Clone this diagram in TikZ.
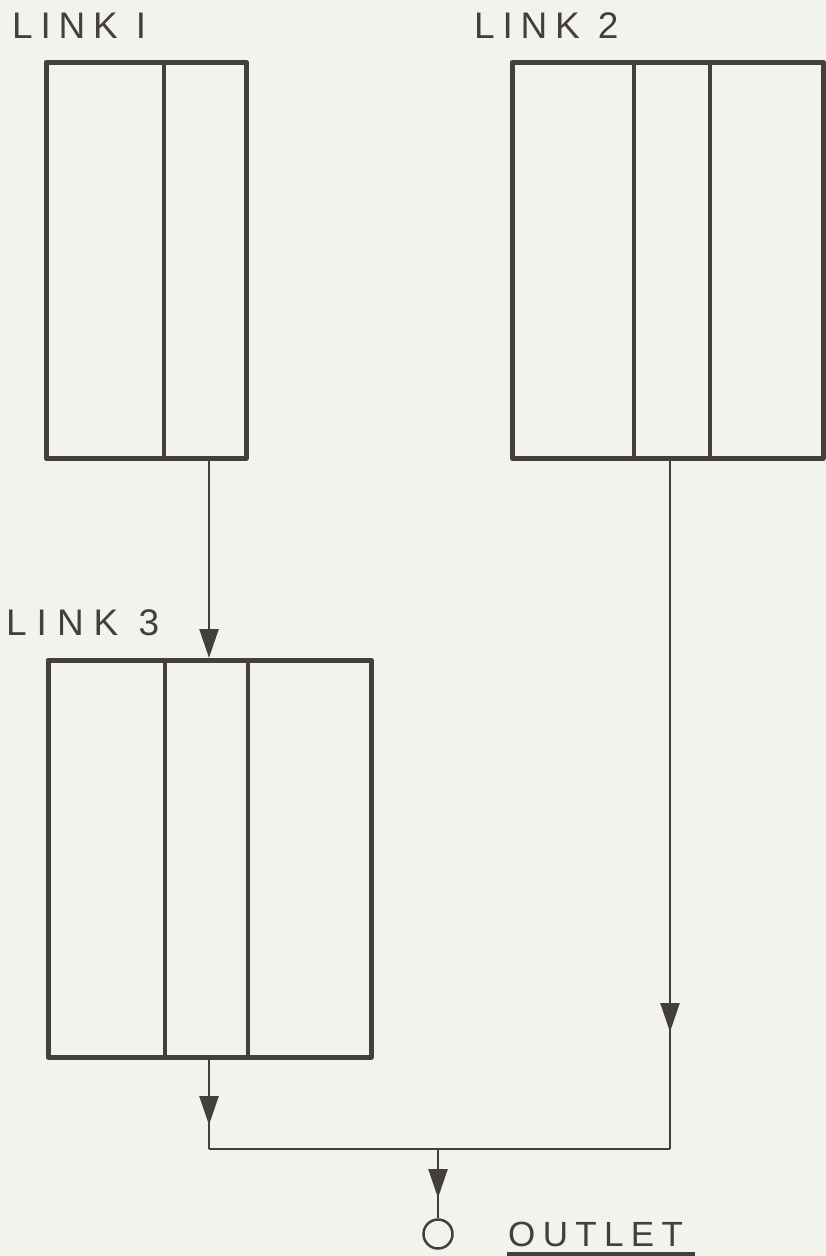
\documentclass[tikz,border=0pt]{standalone}
\usepackage{fontspec}
\setmainfont{Liberation Sans}
\usetikzlibrary{arrows.meta,decorations.markings}
\definecolor{ink}{HTML}{453E3E}
\definecolor{paper}{HTML}{F3F3EE}
\newfontfamily\lblfont[LetterSpace=21]{Liberation Sans}
\newfontfamily\lblfontw[LetterSpace=27]{Liberation Sans}
\tikzset{
  linkbox/.style={draw=ink, line width=5pt, line join=round, rectangle, inner sep=0pt, outer sep=0pt},
  divider/.style={draw=ink, line width=4.5pt},
  conn/.style={draw=ink, line width=2.5pt},
  tiphead/.style={-{Triangle[length=29pt,width=19pt]}, shorten >=2pt},
  lbl/.style={text=ink, inner sep=0pt, anchor=base west, font=\fontsize{37}{40}\selectfont\lblfont},
  outletc/.style={draw=ink, line width=2.5pt, circle, minimum size=29pt, inner sep=0pt},
  midarrow/.style={postaction={decorate}, decoration={markings, mark=at position #1 with {\arrow[ink]{Triangle[length=29pt,width=19pt]}}}}
}
\begin{document}
\begin{tikzpicture}[x=1pt,y=-1pt]
\fill[paper] (0,0) rectangle (826,1256);
\useasboundingbox (0,0) rectangle (826,1256);

% labels
\node[lbl] (t1) at (12,38) {LINK I};
\node[lbl] (t2) at (474,38) {LINK 2};
\node[lbl, font=\fontsize{37}{40}\selectfont\lblfontw] (t3) at (6,635) {LINK 3};

% boxes
\node[linkbox, minimum width=200pt, minimum height=396pt] (l1) at (146,260) {};
\node[linkbox, minimum width=311pt, minimum height=396pt] (l2) at (667.5,260) {};
\node[linkbox, minimum width=323pt, minimum height=397pt] (l3) at (209.5,858.5) {};

% dividers
\coordinate (d11) at (164,0);
\coordinate (d21) at (634,0);
\coordinate (d22) at (710,0);
\coordinate (d31) at (165,0);
\coordinate (d32) at (248,0);
\draw[divider] (l1.north -| d11) -- (l1.south -| d11);
\draw[divider] (l2.north -| d21) -- (l2.south -| d21);
\draw[divider] (l2.north -| d22) -- (l2.south -| d22);
\draw[divider] (l3.north -| d31) -- (l3.south -| d31);
\draw[divider] (l3.north -| d32) -- (l3.south -| d32);

% junction points
\coordinate (xa) at (209,0);
\coordinate (xb) at (670,0);
\coordinate (j3) at (209,1149);
\coordinate (j2) at (670,1149);
\coordinate (jo) at (438,1149);

% outlet
\node[outletc] (out) at (438,1234) {};
\node[lbl, font=\fontsize{35}{40}\selectfont\lblfont] (tout) at (508,1246) {OUTLET};
\draw[draw=ink, line width=4pt] (tout.base west) ++(-1,8) -- ++(188,0);

% connectors
\draw[conn, tiphead] (l1.south -| xa) -- (l3.north -| xa);
\draw[conn, midarrow=68pt] (l3.south -| xa) -- (j3);
\draw[conn] (j3) -- (j2);
\draw[conn, midarrow=574pt] (l2.south -| xb) -- (j2);
\draw[conn, midarrow=49pt] (jo) -- (out.north);
\end{tikzpicture}
\end{document}
